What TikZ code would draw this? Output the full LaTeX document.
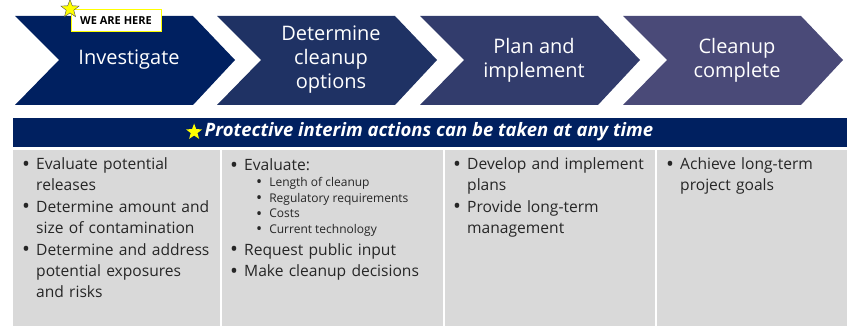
\documentclass[tikz,border=0pt]{standalone}
\usepackage{fontspec}
\setmainfont{Open Sans}
\usepackage{enumitem}
\usetikzlibrary{shapes.geometric,positioning}
\definecolor{stageA}{HTML}{002060}
\definecolor{stageB}{HTML}{1F3264}
\definecolor{stageC}{HTML}{323C6C}
\definecolor{stageD}{HTML}{4A4A78}
\definecolor{panelgray}{HTML}{D9D9D9}
\definecolor{textgray}{HTML}{262626}
\definecolor{staryellow}{HTML}{FFFF00}
\newcommand{\bigdot}{\raisebox{-0.1em}{\scalebox{1.35}{\textbullet}}}
\setlist[itemize,1]{label=\bigdot, leftmargin=14pt, labelwidth=8pt, labelsep=6pt, align=left, topsep=0pt, partopsep=0pt, itemsep=0pt, parsep=0pt}
\setlist[itemize,2]{label=\bigdot, leftmargin=25pt, labelwidth=6pt, labelsep=7pt, align=left, topsep=0pt, partopsep=0pt, itemsep=0pt, parsep=0pt, before={\fontsize{12}{15.7}\selectfont\spaceskip=0pt\xspaceskip=0pt}}

\begin{document}
\begin{tikzpicture}[x=1pt,y=-1pt,
  stage/.style={text=white, font=\fontsize{20}{24}\selectfont, align=center},
  coltext/.style={anchor=north west, inner sep=0pt, text=textgray, font=\fontsize{15.6}{21.4}\selectfont, text width=205pt, align=left}]
\useasboundingbox (0,0) rectangle (850,331);

% the four stages
\foreach \x/\col/\nm/\txt in {15/stageA/inv/Investigate, 217/stageB/det/{Determine\\cleanup\\options}, 420/stageC/plan/{Plan and\\implement}, 623/stageD/done/{Cleanup\\complete}}{
  \fill[\col] (\x,16) -- ++(178,0) -- ++(42,44) -- ++(-42,45) -- ++(-178,0) -- ++(44,-45) -- cycle;
  \node[stage] (\nm) at (\x+114,60) {\txt};
}

% we are here
\node[draw=staryellow, line width=1pt, fill=white, minimum width=90pt, minimum height=22pt, inner sep=0pt, font=\fontsize{11}{12}\bfseries\selectfont] (here) at (116,21) {WE ARE HERE};
\node[star, star points=5, star point ratio=2.4, fill=staryellow, draw=black!70, line width=0.4pt, minimum size=19pt, inner sep=0pt] (herestar) at (70,9) {};

% header bar
\fill[stageA] (13,118) rectangle (847,147);
\node[text=white, font=\fontsize{18.5}{20}\bfseries\itshape\selectfont] (hdr) at (429,132) {Protective interim actions can be taken at any time};
\node[star, star points=5, star point ratio=2.4, fill=staryellow, minimum size=17pt, inner sep=0pt, left=2pt of hdr] (hdrstar) {};

% columns
\fill[panelgray] (13,150) rectangle (220,326);
\fill[panelgray] (222,150) rectangle (443,326);
\fill[panelgray] (445,150) rectangle (655,326);
\fill[panelgray] (657,150) rectangle (847,326);

\node[coltext] (colA) at (22,148) {\begin{itemize}
  \item Evaluate potential\\releases
  \item Determine amount and\\size of contamination
  \item Determine and address\\potential exposures\\and risks
\end{itemize}};
\node[coltext] (colB) at (230,155) {\begin{itemize}
  \item Evaluate:
  \begin{itemize}
    \item Length of cleanup
    \item Regulatory requirements
    \item Costs
    \item Current technology
  \end{itemize}
  \item Request public input
  \item Make cleanup decisions
\end{itemize}};
\node[coltext] (colC) at (453,148) {\begin{itemize}
  \item Develop and implement\\plans
  \item Provide long-term\\management
\end{itemize}};
\node[coltext] (colD) at (666,148) {\begin{itemize}
  \item Achieve long-term\\project goals
\end{itemize}};
\end{tikzpicture}
\end{document}
